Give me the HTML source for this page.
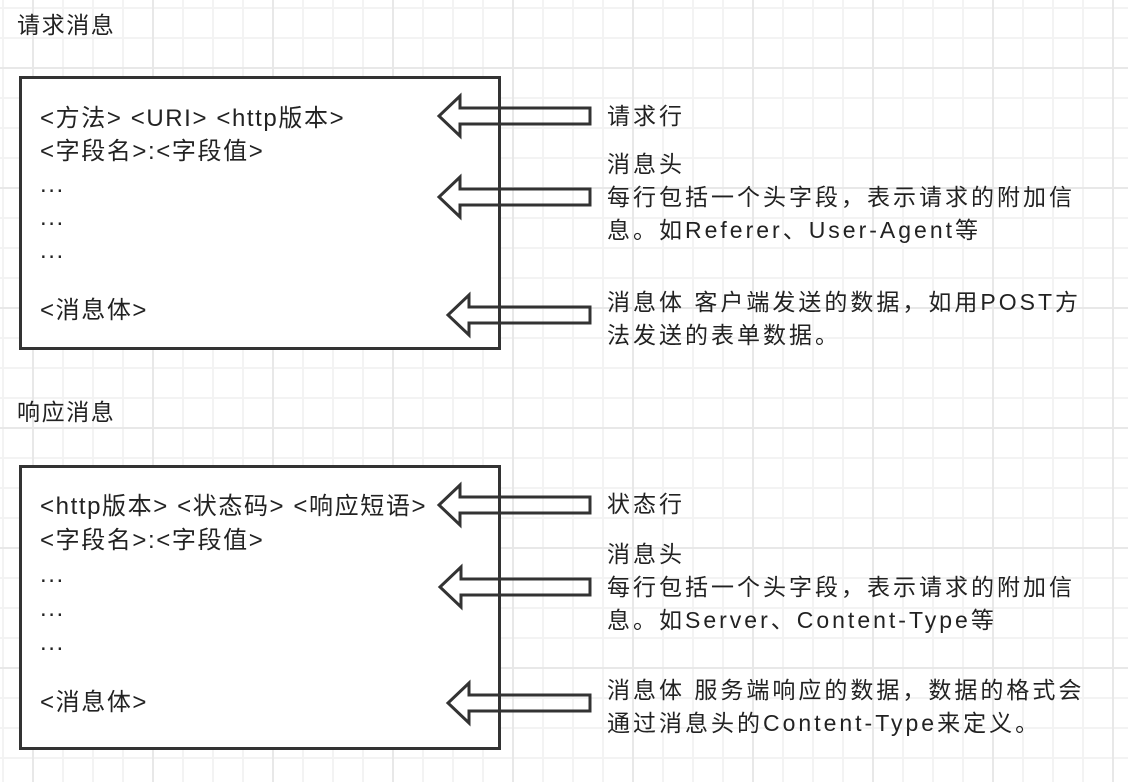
<!DOCTYPE html>
<html><head><meta charset="utf-8"><style>
html,body{margin:0;padding:0}
body{width:1128px;height:782px;position:relative;overflow:hidden;background:#fff;
background-image:
linear-gradient(#e8e8e8 2px,transparent 2px),
linear-gradient(90deg,#e8e8e8 2px,transparent 2px),
linear-gradient(#f3f3f3 2px,transparent 2px),
linear-gradient(90deg,#f3f3f3 2px,transparent 2px);
background-size:120px 120px,120px 120px,30px 30px,30px 30px;
background-position:0 67px,32px 0,0 7px,2px 0;
font-family:"Liberation Sans","Noto Sans CJK SC",sans-serif;color:#222}
.t{position:absolute;white-space:nowrap;font-size:23px;line-height:33px;letter-spacing:3px}
.l{font-size:24px;letter-spacing:1.6px}
.box{position:absolute;background:#fff;border:3px solid #333;box-sizing:border-box}
svg{position:absolute;left:0;top:0}
</style></head><body>
<div class="t l" style="left:17px;top:9px;font-size:23px">请求消息</div>
<div class="t l" style="left:17px;top:396px;font-size:23px">响应消息</div>

<div class="box" style="left:19px;top:76px;width:482px;height:274px"></div>
<div class="box" style="left:19px;top:465px;width:482px;height:285px"></div>

<div class="t l" style="left:40px;top:102px;line-height:33px">&lt;方法&gt; &lt;URI&gt; &lt;http版本&gt;<br>&lt;字段名&gt;:&lt;字段值&gt;<br>...<br>...<br>...</div>
<div class="t l" style="left:40px;top:294px">&lt;消息体&gt;</div>

<div class="t l" style="left:40px;top:490px;line-height:34px">&lt;http版本&gt; &lt;状态码&gt; &lt;响应短语&gt;<br>&lt;字段名&gt;:&lt;字段值&gt;<br>...<br>...<br>...</div>
<div class="t l" style="left:40px;top:686px">&lt;消息体&gt;</div>

<svg width="1128" height="782">
<g fill="none" stroke="#333" stroke-width="3" stroke-linejoin="miter">
<path d="M590,108 L460,108 L460,96 L439,116 L460,136 L460,124 L590,124 Z"/>
<path d="M590,189 L460,189 L460,177 L439,197 L460,217 L460,205 L590,205 Z"/>
<path d="M590,307 L469,307 L469,295 L448,315 L469,335 L469,323 L590,323 Z"/>
<path d="M590,497 L460,497 L460,485 L439,505 L460,525 L460,513 L590,513 Z"/>
<path d="M590,579 L461,579 L461,567 L440,587 L461,607 L461,595 L590,595 Z"/>
<path d="M590,695 L469,695 L469,683 L448,703 L469,723 L469,711 L590,711 Z"/>
</g></svg>

<div class="t" style="left:607px;top:100px">请求行</div>
<div class="t" style="left:607px;top:148px">消息头<br>每行包括一个头字段，表示请求的附加信<br>息。如Referer、User-Agent等</div>
<div class="t" style="left:607px;top:286px">消息体 客户端发送的数据，如用POST方<br>法发送的表单数据。</div>

<div class="t" style="left:607px;top:488px">状态行</div>
<div class="t" style="left:607px;top:538px">消息头<br>每行包括一个头字段，表示请求的附加信<br>息。如Server、Content-Type等</div>
<div class="t" style="left:607px;top:674px">消息体 服务端响应的数据，数据的格式会<br>通过消息头的Content-Type来定义。</div>
</body></html>
